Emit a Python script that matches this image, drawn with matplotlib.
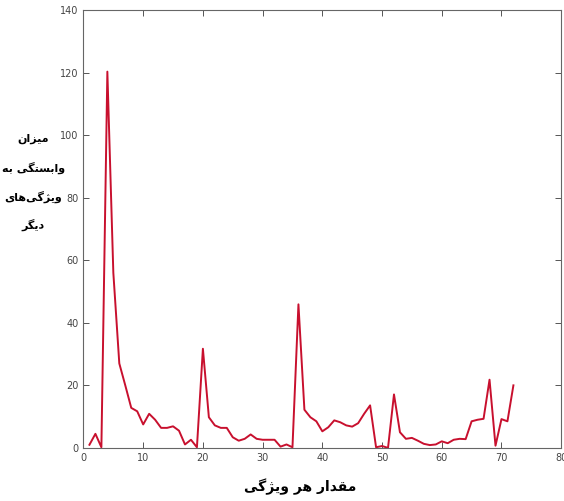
import matplotlib
matplotlib.use('Agg')
import matplotlib.pyplot as plt
import numpy as np

# مقدار هر ویژگی (1..72) و میزان وابستگی
feature_idx = np.arange(1, 73)
dependency = [1.0, 4.5, 0.2, 120.3, 56.0, 27.0, 20.0, 12.8, 11.7, 7.5,
              10.9, 9.0, 6.4, 6.4, 6.9, 5.5, 1.1, 2.6, 0.2, 31.7,
              9.8, 7.2, 6.4, 6.4, 3.4, 2.3, 2.9, 4.3, 2.9, 2.6,
              2.6, 2.6, 0.4, 1.1, 0.2, 45.9, 12.2, 9.8, 8.5, 5.3,
              6.6, 8.8, 8.2, 7.2, 6.8, 7.9, 10.9, 13.6, 0.2, 0.6,
              0.0, 17.1, 5.0, 2.9, 3.2, 2.3, 1.3, 0.9, 1.1, 2.1,
              1.5, 2.6, 2.9, 2.8, 8.5, 9.0, 9.3, 21.8, 0.7, 9.2,
              8.5, 20.0]
x_ticks = [0, 10, 20, 30, 40, 50, 60, 70, 80]
y_ticks = [0, 20, 40, 60, 80, 100, 120, 140]

x_label = 'مقدار هر ویژگی'
y_label_lines = ['میزان', 'وابستگی به', 'ویژگی\u200cهای', 'دیگر']


# شکل‌دهی ساده حروف فارسی (matplotlib خودش این کار را نمی‌کند)
FORMS = {  # isolated, final, initial, medial
    'ا': ('\uFE8D', '\uFE8E', None, None),
    'ب': ('\uFE8F', '\uFE90', '\uFE91', '\uFE92'),
    'ت': ('\uFE95', '\uFE96', '\uFE97', '\uFE98'),
    'د': ('\uFEA9', '\uFEAA', None, None),
    'ر': ('\uFEAD', '\uFEAE', None, None),
    'ز': ('\uFEAF', '\uFEB0', None, None),
    'ژ': ('\uFB8A', '\uFB8B', None, None),
    'س': ('\uFEB1', '\uFEB2', '\uFEB3', '\uFEB4'),
    'ق': ('\uFED5', '\uFED6', '\uFED7', '\uFED8'),
    'م': ('\uFEE1', '\uFEE2', '\uFEE3', '\uFEE4'),
    'ن': ('\uFEE5', '\uFEE6', '\uFEE7', '\uFEE8'),
    'ه': ('\uFEE9', '\uFEEA', '\uFEEB', '\uFEEC'),
    'و': ('\uFEED', '\uFEEE', None, None),
    'گ': ('\uFB92', '\uFB93', '\uFB94', '\uFB95'),
    'ی': ('\uFBFC', '\uFBFD', '\uFBFE', '\uFBFF'),
}


def shape(text):
    out = []
    for i, ch in enumerate(text):
        if ch not in FORMS:
            if ch != '\u200c':
                out.append(ch)
            continue
        prev = text[i - 1] if i > 0 else ''
        nxt = text[i + 1] if i + 1 < len(text) else ''
        jp = prev in FORMS and FORMS[prev][2] is not None
        jn = FORMS[ch][2] is not None and nxt in FORMS
        iso, fin, ini, med = FORMS[ch]
        if jp and jn:
            out.append(med)
        elif jp:
            out.append(fin)
        elif jn:
            out.append(ini)
        else:
            out.append(iso)
    return ''.join(out[::-1])


fig = plt.figure(figsize=(5.64, 5.01), dpi=100)
ax = fig.add_axes([0.148, 0.106, 0.847, 0.874])

ax.plot(feature_idx, dependency, color='#c8102e', lw=1.4)

ax.set_xlim(0, 80)
ax.set_ylim(0, 140)
ax.set_xticks(x_ticks)
ax.set_yticks(y_ticks)
ax.tick_params(direction='in', top=True, right=True, length=4, width=0.7,
               colors='#555555', labelsize=7, labelcolor='#444444')
for lab in ax.get_xticklabels() + ax.get_yticklabels():
    lab.set_family(['Liberation Sans Narrow', 'DejaVu Sans'])
for s in ax.spines.values():
    s.set_color('#666666')
    s.set_linewidth(0.8)

fig.text(0.532, 0.028, shape(x_label), ha='center', va='center',
         fontsize=10, fontweight='bold', family='DejaVu Sans')

# برچسب محور y: هر خط جدا، افقی و سمت چپ
y0, dy = 0.722, 0.057
for k, line in enumerate(y_label_lines):
    fig.text(0.059, y0 - k * dy, shape(line), ha='center', va='center',
             fontsize=8, fontweight='bold', family='DejaVu Sans')

fig.savefig('out.png', dpi=100)
